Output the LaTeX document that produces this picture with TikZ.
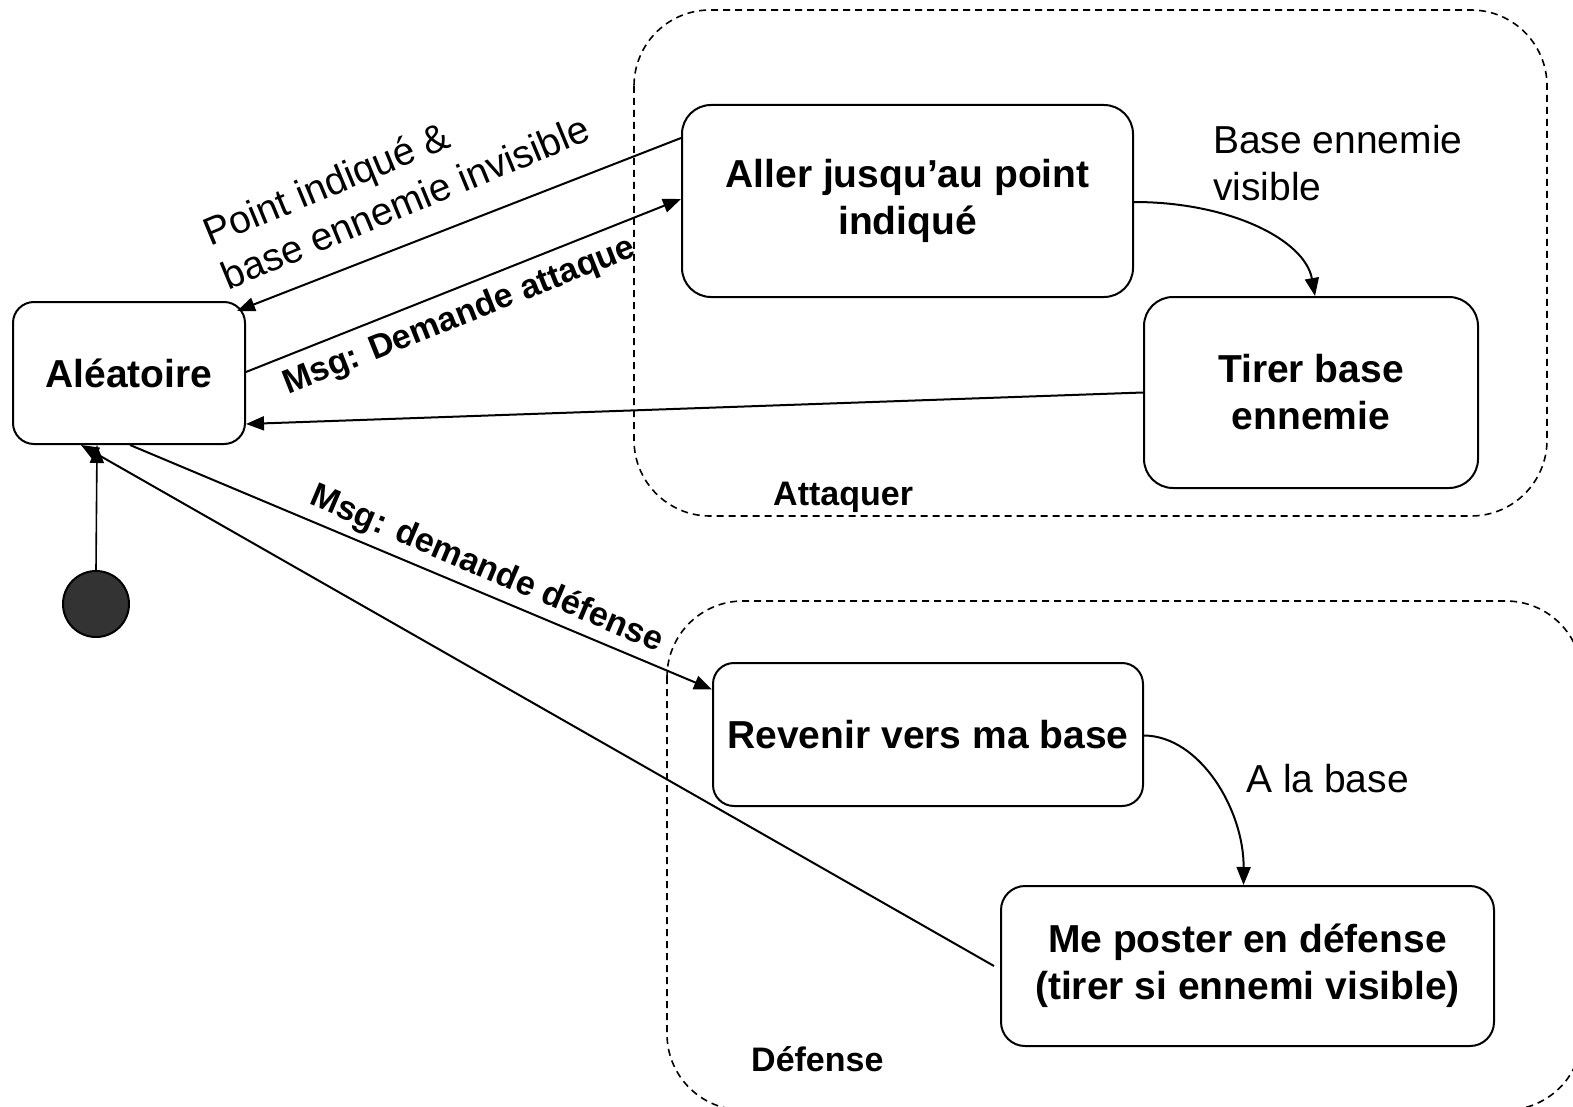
\documentclass[tikz,border=0pt]{standalone}
\usepackage{fontspec}
\setmainfont{Liberation Sans}
\usetikzlibrary{arrows.meta,calc}

\tikzset{
  state/.style={draw, line width=2pt, fill=white, rounded corners=#1,
    align=center, inner sep=0pt,
    font=\fontsize{39}{47}\selectfont\bfseries},
  group/.style={draw, dashed, line width=1.6pt, dash pattern=on 7pt off 5pt,
    rounded corners=76pt},
  grouplabel/.style={inner sep=0pt, font=\fontsize{34}{40}\selectfont\bfseries},
  guard/.style={inner sep=0pt, align=left, font=\fontsize{39}{47}\selectfont},
  msg/.style={inner sep=0pt, font=\fontsize{34}{40}\selectfont\bfseries},
  trans/.style={line width=2pt, -{Triangle[length=18pt,width=14pt]}},
  initstate/.style={circle, draw, line width=2pt, fill=black!80,
    minimum size=66pt, inner sep=0pt},
}

\begin{document}
\begin{tikzpicture}[x=1pt, y=-1pt]
  \useasboundingbox (0,0) rectangle (1573,1107);
  \clip (0,0) rectangle (1573,1107);

  % composite states
  \draw[group] (634,10) rectangle (1547,516);
  \draw[group] (667,601) rectangle (1582,1110);
  \node[grouplabel, anchor=base west] (attlbl) at (773,505) {Attaquer};
  \node[grouplabel, anchor=base west] (deflbl) at (751,1071) {Défense};

  % states
  \node[state=21pt, minimum width=232pt, minimum height=142pt] (ale) at (129,373) {Aléatoire};
  \node[state=29pt, minimum width=451pt, minimum height=192pt] (aller) at (907.5,201)
    {Aller jusqu’au point\\indiqué};
  \node[state=29pt, minimum width=334pt, minimum height=191pt] (tirer) at (1311,392.5)
    {Tirer base\\ennemie};
  \node[state=21pt, minimum width=430pt, minimum height=143pt] (revenir) at (928,734.5)
    {Revenir vers ma base};
  \node[state=24pt, minimum width=493pt, minimum height=160pt] (poster) at (1247.5,966)
    {Me poster en défense\\(tirer si ennemi visible)};
  \node[initstate] (init) at (96,604) {};

  % transitions
  \draw[trans, line width=1.6pt] (init.north) -- ($(ale.south)+(-32,0)$);
  \draw[trans] ($(aller.west)+(0,-63)$) -- ($(ale.north east)+(-9,10)$);
  \draw[trans] ($(ale.east)+(0,-1)$) -- ($(aller.west)+(0,-2)$);
  \draw[trans] (tirer.west) -- ($(ale.east)+(0,51)$);
  \draw[trans] ($(ale.south)+(1,0)$) -- ($(revenir.west)+(0,-45)$);
  \draw[trans] ($(poster.west)+(-6,0)$) -- ($(ale.south)+(-48,0)$);
  \draw[trans] ($(aller.east)+(0,1)$) .. controls (1230,202) and (1305,240) .. ($(tirer.north)+(4,0)$);
  \draw[trans] ($(revenir.east)+(0,1)$) .. controls (1200,736) and (1244,810) .. ($(poster.north)+(-4,0)$);

  % transition labels
  \node[guard, rotate=22.5] (lblpoint) at (396,180) {Point indiqué \&\\base ennemie invisible};
  \node[msg, rotate=21.7, anchor=base] (lblatt) at (463,325) {Msg: Demande attaque};
  \node[msg, rotate=-23, anchor=base] (lbldef) at (483,578) {Msg: demande défense};
  \node[guard, anchor=north west] (lblvis) at (1213,125) {Base ennemie\\visible};
  \node[guard, anchor=base west] (lblbase) at (1246,792) {A la base};
\end{tikzpicture}
\end{document}
